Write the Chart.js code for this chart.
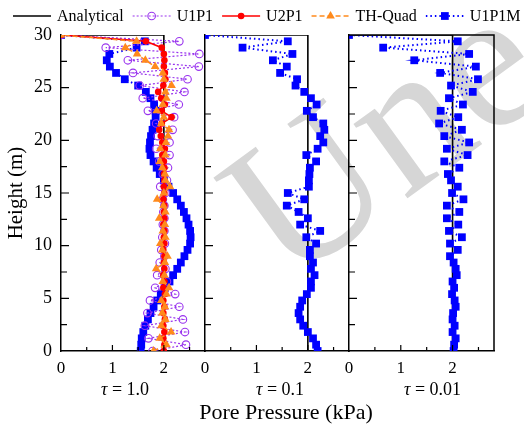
<!DOCTYPE html>
<html>
<head>
<meta charset="utf-8">
<script src="https://cdn.jsdelivr.net/npm/chart.js@4/dist/chart.umd.min.js"></script>
<style>
  html, body { margin: 0; padding: 0; background: #fff; }
  #wrap { position: relative; width: 524px; height: 428px; }
  #wrap canvas { position: absolute; left: 0; top: 0; }
</style>
</head>
<body>
<div id="wrap">
  <canvas id="panel1" width="524" height="428"></canvas>
  <canvas id="panel2" width="524" height="428"></canvas>
  <canvas id="panel3" width="524" height="428"></canvas>
</div>
<script>
// node heights (m), bottom to top
const heights = [0, 0.6, 1.2, 1.8, 2.4, 3, 3.6, 4.2, 4.8, 5.4, 6, 6.6, 7.2, 7.8, 8.4, 9, 9.6,
  10.2, 10.8, 11.4, 12, 12.6, 13.2, 13.8, 14.4, 15, 15.6, 16.2, 16.8, 17.4, 18, 18.6, 19.2,
  19.8, 20.4, 21, 21.6, 22.2, 22.8, 23.4, 24, 24.6, 25.2, 25.8, 26.4, 27, 27.6, 28.2, 28.8, 29.4, 30];

// analytical solution: drained top, 2 kPa below
const analyticalP = [0, 2, 2];
const analyticalH = [30, 30, 0];

// pore pressure (kPa) at each node, tau = 1.0
const u1p1Tau1 = [1.78, 2.43, 1.70, 2.41, 1.63, 2.37, 1.68, 2.30, 1.73, 2.22,
  1.83, 2.06, 1.87, 2.03, 1.92, 2.01, 1.95, 2.02, 1.97, 2.01,
  1.98, 2.01, 1.99, 2.01, 1.98, 2.03, 1.93, 2.06, 1.98, 2.08,
  1.91, 2.11, 1.85, 2.11, 1.88, 2.17, 1.85, 2.20, 1.69, 2.29,
  1.59, 2.40, 1.53, 2.46, 1.40, 2.68, 1.30, 2.69, 0.87, 2.30, 0];
const u2p1Tau1 = [2.00, 2.01, 1.99, 2.01, 1.99, 2.02, 1.99, 2.01, 1.99, 2.02,
  1.99, 2.01, 1.99, 2.01, 2.00, 2.01, 1.99, 2.01, 2.00, 2.01,
  1.99, 2.01, 2.00, 2.01, 1.99, 2.01, 2.00, 2.01, 2.00, 2.01,
  2.00, 1.97, 2.02, 1.97, 1.94, 1.91, 1.96, 2.15, 1.96, 2.02,
  1.95, 1.89, 1.99, 2.03, 2.02, 2.00, 2.01, 2.00, 1.96, 1.65, 0];
const thQuadTau1 = [1.80, 2.05, 1.92, 2.14, 1.95, 2.03, 1.97, 2.02, 1.95, 2.05,
  2.10, 1.98, 2.01, 1.85, 2.02, 2.07, 1.97, 1.93, 2.03, 1.98,
  2.02, 1.91, 2.03, 1.99, 1.87, 2.00, 2.12, 2.03, 2.02, 1.97,
  1.92, 2.03, 1.93, 2.04, 2.08, 2.10, 1.95, 2.00, 1.86, 1.98,
  2.05, 2.03, 2.15, 2.00, 1.98, 1.83, 1.64, 1.48, 1.25, 1.47, 0];
const u1p1mTau1 = [1.55, 1.56, 1.57, 1.60, 1.64, 1.69, 1.74, 1.80, 1.87, 1.94,
  2.02, 2.11, 2.18, 2.26, 2.33, 2.40, 2.46, 2.51, 2.52, 2.51,
  2.48, 2.44, 2.39, 2.33, 2.26, 2.18, 2.09, 2.00, 1.92, 1.86,
  1.80, 1.74, 1.72, 1.73, 1.75, 1.78, 1.81, 1.84, 1.84, 1.81,
  1.74, 1.65, 1.50, 1.24, 1.07, 0.95, 0.89, 0.94, 1.47, 1.63, 0];

// tau = 0.1
const u1p1mTau01 = [2.19, 2.16, 2.10, 2.00, 1.91, 1.85, 1.82, 1.85, 1.89, 1.98,
  2.06, 2.06, 2.13, 2.06, 2.10, 2.04, 2.04, 2.16, 1.97, 2.24,
  1.85, 2.00, 1.82, 1.59, 1.93, 1.61, 2.02, 2.02, 2.03, 2.04,
  2.16, 1.97, 2.19, 2.30, 2.24, 2.32, 2.30, 2.10, 1.98, 2.17,
  2.06, 1.93, 1.76, 1.79, 1.46, 1.59, 1.32, 1.70, 0.73, 1.61, 0];

// tau = 0.01
const u1p1mTau001 = [2.02, 2.03, 2.06, 2.00, 2.04, 2.00, 2.01, 2.06, 2.04, 1.99,
  2.03, 2.00, 2.08, 2.06, 2.02, 1.95, 2.10, 1.95, 2.18, 1.93,
  2.11, 1.89, 2.13, 1.89, 2.21, 1.99, 2.10, 1.97, 1.91, 2.13,
  1.84, 2.29, 1.89, 2.32, 1.84, 2.18, 1.74, 2.11, 1.77, 2.20,
  1.93, 2.39, 1.97, 2.49, 1.76, 2.45, 1.26, 2.32, 0.66, 2.10, 0];

const tauValues = ['1.0', '0.1', '0.01'];
const xTitle = 'Pore Pressure (kPa)';
const yTitle = 'Height (m)';

const SERIF = "'Liberation Serif', 'Times New Roman', serif";
Chart.defaults.font.family = SERIF;
Chart.defaults.color = '#000';

function toPoints(values, hs) {
  return values.map((p, i) => ({ x: p, y: hs[i] }));
}

const styles = {
  analytical: { label: 'Analytical', borderColor: '#000', borderWidth: 1.6, pointRadius: 0, order: 5 },
  u1p1: { label: 'U1P1', borderColor: '#9933ee', borderWidth: 1.2, borderDash: [2, 2],
    pointStyle: 'circle', pointRadius: 3.8, pointBorderWidth: 1.1, pointBorderColor: '#9933ee',
    pointBackgroundColor: 'rgba(0,0,0,0)', order: 3 },
  u2p1: { label: 'U2P1', borderColor: '#ff0000', borderWidth: 1.6,
    pointStyle: 'circle', pointRadius: 3.3, pointBorderWidth: 0, pointBackgroundColor: '#ff0000', order: 2 },
  thQuad: { label: 'TH-Quad', borderColor: '#ff8a1c', borderWidth: 1.5, borderDash: [5, 3],
    pointStyle: 'triangle', pointRadius: 5, pointBorderWidth: 0, pointBackgroundColor: '#ff8a1c', order: 1 },
  u1p1m: { label: 'U1P1M', borderColor: '#0000ff', borderWidth: 2, borderDash: [1.5, 3],
    pointStyle: 'rect', pointRadius: 5.5, pointBorderWidth: 0, pointBackgroundColor: '#0000ff', order: 4 }
};

function series(style, values, hs) {
  return Object.assign({ data: toPoints(values, hs), showLine: true, tension: 0 }, style);
}

const analyticalSet = () => series(styles.analytical, analyticalP, analyticalH);

// inward tick marks on the bottom and left axes
const innerTicks = {
  id: 'innerTicks',
  afterDatasetsDraw(chart) {
    const { ctx, chartArea: a, scales: { x, y } } = chart;
    ctx.save();
    ctx.strokeStyle = '#000';
    ctx.lineWidth = 1.2;
    ctx.beginPath();
    for (let v = 0.5; v < x.max; v += 0.5) {
      const px = x.getPixelForValue(v);
      const len = Number.isInteger(v) ? 6 : 4;
      ctx.moveTo(px, a.bottom);
      ctx.lineTo(px, a.bottom - len);
    }
    for (let v = 2.5; v < y.max; v += 2.5) {
      const py = y.getPixelForValue(v);
      const len = v % 5 === 0 ? 8 : 6;
      ctx.moveTo(a.left, py);
      ctx.lineTo(a.left + len, py);
    }
    ctx.stroke();
    ctx.restore();
  }
};

// closes the last panel with top and right lines
const frameTopRight = {
  id: 'frameTopRight',
  afterDraw(chart) {
    const { ctx, chartArea: a } = chart;
    ctx.save();
    ctx.strokeStyle = '#000';
    ctx.lineWidth = 1.5;
    ctx.beginPath();
    ctx.moveTo(a.left, a.top);
    ctx.lineTo(a.right, a.top);
    ctx.lineTo(a.right, a.bottom);
    ctx.stroke();
    ctx.restore();
  }
};

// "τ = ..." under each panel (italic tau), plus the shared x title under the middle one
const panelCaption = {
  id: 'panelCaption',
  afterDraw(chart, args, opts) {
    const { ctx, chartArea: a } = chart;
    const cx = (a.left + a.right) / 2 + opts.shift;
    const y = a.bottom + 39;
    const italic = 'italic 18px ' + SERIF;
    const upright = '18px ' + SERIF;
    const rest = ' = ' + opts.value;
    ctx.save();
    ctx.fillStyle = '#000';
    ctx.textBaseline = 'middle';
    ctx.textAlign = 'left';
    ctx.font = italic;
    const w1 = ctx.measureText('\u03c4').width;
    ctx.font = upright;
    const w2 = ctx.measureText(rest).width;
    const x0 = cx - (w1 + w2) / 2;
    ctx.font = italic;
    ctx.fillText('\u03c4', x0, y);
    ctx.font = upright;
    ctx.fillText(rest, x0 + w1, y);
    if (opts.title) {
      ctx.font = '22px ' + SERIF;
      ctx.textAlign = 'center';
      ctx.fillText(opts.title, (a.left + a.right) / 2 + opts.titleShift, a.bottom + 62);
    }
    ctx.restore();
  }
};

const watermark = {
  id: 'watermark',
  beforeDraw(chart) {
    const ctx = chart.ctx;
    ctx.save();
    ctx.translate(287, 286);
    ctx.rotate(-36 * Math.PI / 180);
    ctx.font = '200px ' + SERIF;
    ctx.fillStyle = '#d6d6d6';
    ctx.fillText('Une', 0, 0);
    ctx.restore();
  }
};

// one-row legend across the top: line sample with marker, then label
const legendRow = {
  id: 'legendRow',
  afterDraw(chart) {
    const ctx = chart.ctx;
    const y = 16;
    let x = 13;
    ctx.save();
    ctx.font = '16px ' + SERIF;
    ctx.textBaseline = 'middle';
    chart.data.datasets.forEach(ds => {
      ctx.strokeStyle = ds.borderColor;
      ctx.lineWidth = ds.borderWidth;
      ctx.setLineDash(ds.borderDash || []);
      ctx.beginPath();
      ctx.moveTo(x, y);
      ctx.lineTo(x + 38, y);
      ctx.stroke();
      ctx.setLineDash([]);
      if (ds.pointRadius > 0) {
        ctx.fillStyle = ds.pointBackgroundColor;
        ctx.strokeStyle = ds.pointBorderColor || ds.pointBackgroundColor;
        ctx.lineWidth = ds.pointBorderWidth;
        Chart.helpers.drawPoint(ctx, {
          pointStyle: ds.pointStyle, radius: ds.pointRadius,
          borderWidth: ds.pointBorderWidth, rotation: 0
        }, x + 19, y);
      }
      ctx.fillStyle = '#000';
      ctx.fillText(ds.label, x + 44, y + 1);
      x += 44 + ctx.measureText(ds.label).width + 9;
    });
    ctx.restore();
  }
};

function makePanel(id, datasets, cfg) {
  return new Chart(document.getElementById(id), {
    type: 'scatter',
    data: { datasets },
    options: {
      responsive: false,
      animation: false,
      events: [],
      layout: { padding: cfg.padding },
      plugins: {
        legend: { display: false },
        tooltip: { enabled: false },
        panelCaption: cfg.caption
      },
      scales: {
        x: {
          type: 'linear', min: 0, max: 2.8,
          afterFit: s => { s.height = 77; },
          ticks: { stepSize: 1, includeBounds: false, padding: 7, font: { size: 17 }, color: '#000' },
          grid: { display: true, drawOnChartArea: false, drawTicks: false },
          border: { display: true, color: '#000', width: 1.5 }
        },
        y: {
          type: 'linear', min: 0, max: 30,
          afterFit: s => { s.width = cfg.yWidth; },
          ticks: { display: cfg.yLabels, stepSize: 5, padding: 9, font: { size: 18 }, color: '#000' },
          grid: { display: true, drawOnChartArea: false, drawTicks: false },
          border: { display: true, color: '#000', width: 1.5 },
          title: { display: cfg.yLabels, text: yTitle, font: { size: 21 }, color: '#000',
            padding: { top: 4, bottom: 0 } }
        }
      }
    },
    plugins: cfg.plugins
  });
}

makePanel('panel1', [
  analyticalSet(),
  series(styles.u1p1, u1p1Tau1, heights),
  series(styles.u2p1, u2p1Tau1, heights),
  series(styles.thQuad, thQuadTau1, heights),
  series(styles.u1p1m, u1p1mTau1, heights)
], {
  padding: { left: 0, top: 35, right: 319, bottom: 0 },
  yWidth: 61, yLabels: true,
  caption: { value: tauValues[0], shift: -8 },
  plugins: [watermark, innerTicks, panelCaption, legendRow]
});

makePanel('panel2', [
  analyticalSet(),
  series(styles.u1p1m, u1p1mTau01, heights)
], {
  padding: { left: 205, top: 35, right: 175, bottom: 0 },
  yWidth: 0, yLabels: false,
  caption: { value: tauValues[1], shift: 3, title: xTitle, titleShift: 9 },
  plugins: [innerTicks, panelCaption]
});

makePanel('panel3', [
  analyticalSet(),
  series(styles.u1p1m, u1p1mTau001, heights)
], {
  padding: { left: 349, top: 35, right: 30, bottom: 0 },
  yWidth: 0, yLabels: false,
  caption: { value: tauValues[2], shift: 11 },
  plugins: [innerTicks, frameTopRight, panelCaption]
});
</script>
</body>
</html>
